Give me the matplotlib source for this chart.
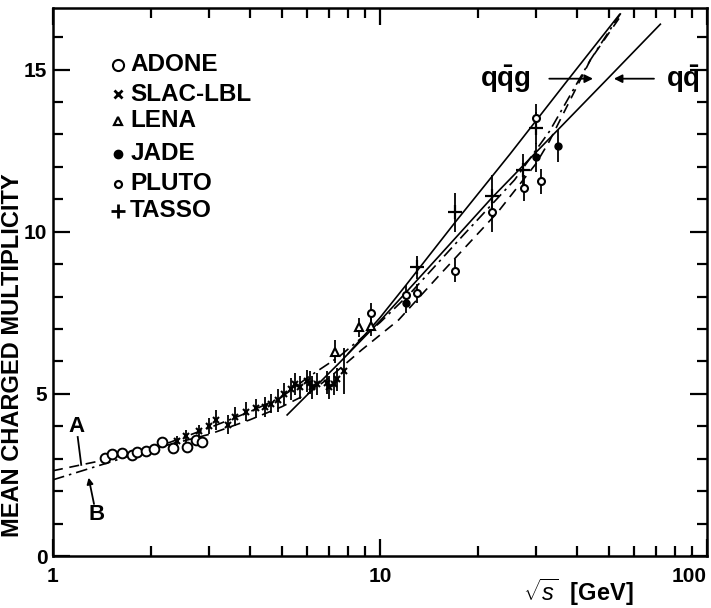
import matplotlib
matplotlib.use("Agg")
import matplotlib.pyplot as plt
from matplotlib.ticker import FixedLocator, NullFormatter

plt.rcParams['font.family'] = ['Liberation Sans', 'DejaVu Sans']
plt.rcParams['mathtext.fontset'] = 'custom'
plt.rcParams['mathtext.rm'] = 'Liberation Sans'
plt.rcParams['mathtext.bf'] = 'Liberation Sans:bold'
plt.rcParams['mathtext.it'] = 'Liberation Sans:italic'

# ---------------- data ----------------
adone_x = [1.44, 1.52, 1.62, 1.74, 1.81, 1.93, 2.04, 2.15, 2.32, 2.57, 2.74, 2.86]
adone_y = [3.02, 3.15, 3.18, 3.12, 3.21, 3.24, 3.30, 3.52, 3.33, 3.36, 3.58, 3.52]

slac_x = [2.4, 2.56, 2.79, 3.0, 3.16, 3.44, 3.61, 3.9, 4.18, 4.45, 4.64, 4.88,
          5.1, 5.34, 5.5, 5.69, 6.0, 6.1, 6.2, 6.43, 6.89, 7.0, 7.24, 7.4, 7.77]
slac_y = [3.55, 3.7, 3.85, 4.0, 4.2, 4.05, 4.3, 4.45, 4.55, 4.6, 4.7, 4.8,
          5.0, 5.15, 5.3, 5.2, 5.4, 5.35, 5.2, 5.3, 5.35, 5.2, 5.3, 5.45, 5.7]
slac_err = [0.15, 0.2, 0.2, 0.25, 0.3, 0.3, 0.3, 0.3, 0.3, 0.3, 0.3, 0.35,
            0.35, 0.35, 0.35, 0.35, 0.35, 0.35, 0.35, 0.35, 0.35, 0.35, 0.35, 0.35, 0.7]

lena_x = [7.3, 8.6, 9.4]
lena_y = [6.3, 7.05, 7.1]
lena_err = [0.35, 0.3, 0.3]

jade_x = [12.0, 30.0, 35.0]
jade_y = [7.8, 12.3, 12.65]
jade_err = [0.3, 0.45, 0.5]

pluto_x = [9.4, 12.0, 13.0, 17.0, 22.0, 27.6, 30.0, 31.0]
pluto_y = [7.5, 8.05, 8.1, 8.8, 10.6, 11.35, 13.5, 11.55]
pluto_err = [0.3, 0.3, 0.3, 0.35, 0.6, 0.4, 0.45, 0.4]

tasso_x = [13.0, 17.0, 22.0, 27.4, 30.0]
tasso_y = [8.9, 10.6, 11.1, 11.9, 13.2]
tasso_err = [0.35, 0.6, 0.65, 0.5, 0.5]

# model curves
curveA_x = [1, 1.5, 2.2, 3, 4, 5, 6, 7, 8.8, 11.4, 15, 22.9, 30, 33, 44, 54]
curveA_y = [2.63, 3.0, 3.4, 3.75, 4.2, 4.6, 5.0, 5.5, 6.36, 7.28, 8.6, 10.6, 12.1, 12.8, 15.3, 16.6]

curveB_x = [1, 1.5, 2.2, 3, 4, 5, 6, 7.5, 10, 12.5, 18, 25.8, 33, 44, 55]
curveB_y = [2.35, 2.9, 3.45, 3.95, 4.45, 4.9, 5.5, 6.15, 7.2, 8.15, 9.9, 11.6, 13.1, 15.3, 16.8]

qq_x = [5.2, 7.5, 10, 15, 22, 30, 50, 72]
qq_y = [4.35, 5.95, 7.25, 9.2, 11.05, 12.45, 14.75, 16.4]

qqg_x = [8, 10, 12, 17, 25, 37, 54]
qqg_y = [6.25, 7.35, 8.35, 10.3, 12.4, 14.6, 16.7]

legend_names = ['ADONE', 'SLAC-LBL', 'LENA', 'JADE', 'PLUTO', 'TASSO']
x_tick_labels = ['1', '10', '100']
y_tick_labels = ['0', '5', '10', '15']

# ---------------- figure ----------------
fig = plt.figure(figsize=(7.11, 6.08), dpi=100)
ax = fig.add_axes([53/711, 1-556/608, 654/711, 548/608])
ax.set_xscale('log')
ax.set_xlim(1, 100)
ax.set_ylim(0, 16.9)

lw_c = 1.2
ax.plot(curveA_x, curveA_y, color='k', lw=lw_c, ls=(0, (6, 4)))
ax.plot(curveB_x, curveB_y, color='k', lw=lw_c, ls=(0, (7, 3, 1.5, 3)))
ax.plot(qq_x, qq_y, color='k', lw=lw_c, ls='-')
ax.plot(qqg_x, qqg_y, color='k', lw=lw_c, ls='-')

ek = dict(ecolor='k', elinewidth=1.3, capsize=0, ls='none')
ax.plot(adone_x, adone_y, 'o', mfc='white', mec='k', ms=7, mew=1.4)
ax.errorbar(slac_x, slac_y, yerr=slac_err, fmt='x', color='k', ms=4, mew=1.5, **ek)
ax.errorbar(lena_x, lena_y, yerr=lena_err, fmt='^', mfc='white', mec='k', ms=6, mew=1.5, **ek)
ax.errorbar(jade_x, jade_y, yerr=jade_err, fmt='o', mfc='k', mec='k', ms=5, **ek)
ax.errorbar(pluto_x, pluto_y, yerr=pluto_err, fmt='o', mfc='white', mec='k', ms=5, mew=1.5, **ek)
ax.errorbar(tasso_x, tasso_y, yerr=tasso_err, fmt='+', color='k', ms=10, mew=1.6, **ek)

# legend (manual)
leg_markers = [dict(marker='o', mfc='white', mec='k', ms=8, mew=1.5),
               dict(marker='x', color='k', ms=6, mew=2),
               dict(marker='^', mfc='white', mec='k', ms=6, mew=1.6),
               dict(marker='o', mfc='k', mec='k', ms=6),
               dict(marker='o', mfc='white', mec='k', ms=5, mew=1.6),
               dict(marker='+', color='k', ms=10, mew=2)]
leg_y = [0.896, 0.843, 0.794, 0.734, 0.679, 0.630]
for name, mk, yy in zip(legend_names, leg_markers, leg_y):
    ax.plot([0.099], [yy], transform=ax.transAxes, ls='none', **mk)
    ax.text(0.118, yy, name, transform=ax.transAxes, fontsize=17.5, fontweight='bold',
            va='center', ha='left')

# annotations
ax.text(24.2, 14.7, r'$\mathbf{q\bar{q}g}$', fontsize=20, ha='center', va='center')
ax.annotate('', xy=(45.7, 14.72), xytext=(32.3, 14.72),
            arrowprops=dict(arrowstyle='-|>', color='k', lw=1.3, mutation_scale=12))
ax.text(84.4, 14.7, r'$\mathbf{q\bar{q}}$', fontsize=20, ha='center', va='center')
ax.annotate('', xy=(50.9, 14.72), xytext=(70.2, 14.72),
            arrowprops=dict(arrowstyle='-|>', color='k', lw=1.3, mutation_scale=12))

ax.text(1.18, 3.98, 'A', fontsize=16, fontweight='bold', ha='center', va='center')
ax.plot([1.19, 1.22], [3.67, 2.81], color='k', lw=1.3)
ax.text(1.36, 1.27, 'B', fontsize=16, fontweight='bold', ha='center', va='center')
ax.annotate('', xy=(1.28, 2.5), xytext=(1.34, 1.52),
            arrowprops=dict(arrowstyle='-|>', color='k', lw=1.3, mutation_scale=9))

# axes styling
for s in ax.spines.values():
    s.set_linewidth(1.8)
ax.yaxis.set_major_locator(FixedLocator([0, 5, 10, 15]))
ax.yaxis.set_minor_locator(FixedLocator([1, 2, 3, 4, 6, 7, 8, 9, 11, 12, 13, 14, 16]))
ax.set_yticklabels(y_tick_labels)
ax.xaxis.set_major_locator(FixedLocator([1, 10, 100]))
ax.xaxis.set_minor_locator(FixedLocator([2, 3, 4, 5, 6, 7, 8, 9, 20, 30, 40, 50, 60, 70, 80, 90]))
ax.xaxis.set_minor_formatter(NullFormatter())
ax.set_xticklabels(x_tick_labels)
ax.tick_params(which='both', direction='in', top=True, right=True, width=1.6)
ax.tick_params(which='major', length=12, labelsize=15, pad=8)
ax.tick_params(axis='y', which='major', pad=4)
ax.tick_params(which='minor', length=7)
for lab in ax.get_xticklabels() + ax.get_yticklabels():
    lab.set_fontweight('bold')
ax.get_xticklabels()[-1].set_horizontalalignment('right')

ax.set_ylabel('MEAN CHARGED MULTIPLICITY', fontsize=17, fontweight='bold')
ax.yaxis.set_label_coords(-29/654, 0.367)
fig.text(578/711, 1-592/608, r'$\sqrt{s}$  [GeV]', fontsize=17, fontweight='bold',
         ha='center', va='center')

fig.savefig('out.png', dpi=100)
